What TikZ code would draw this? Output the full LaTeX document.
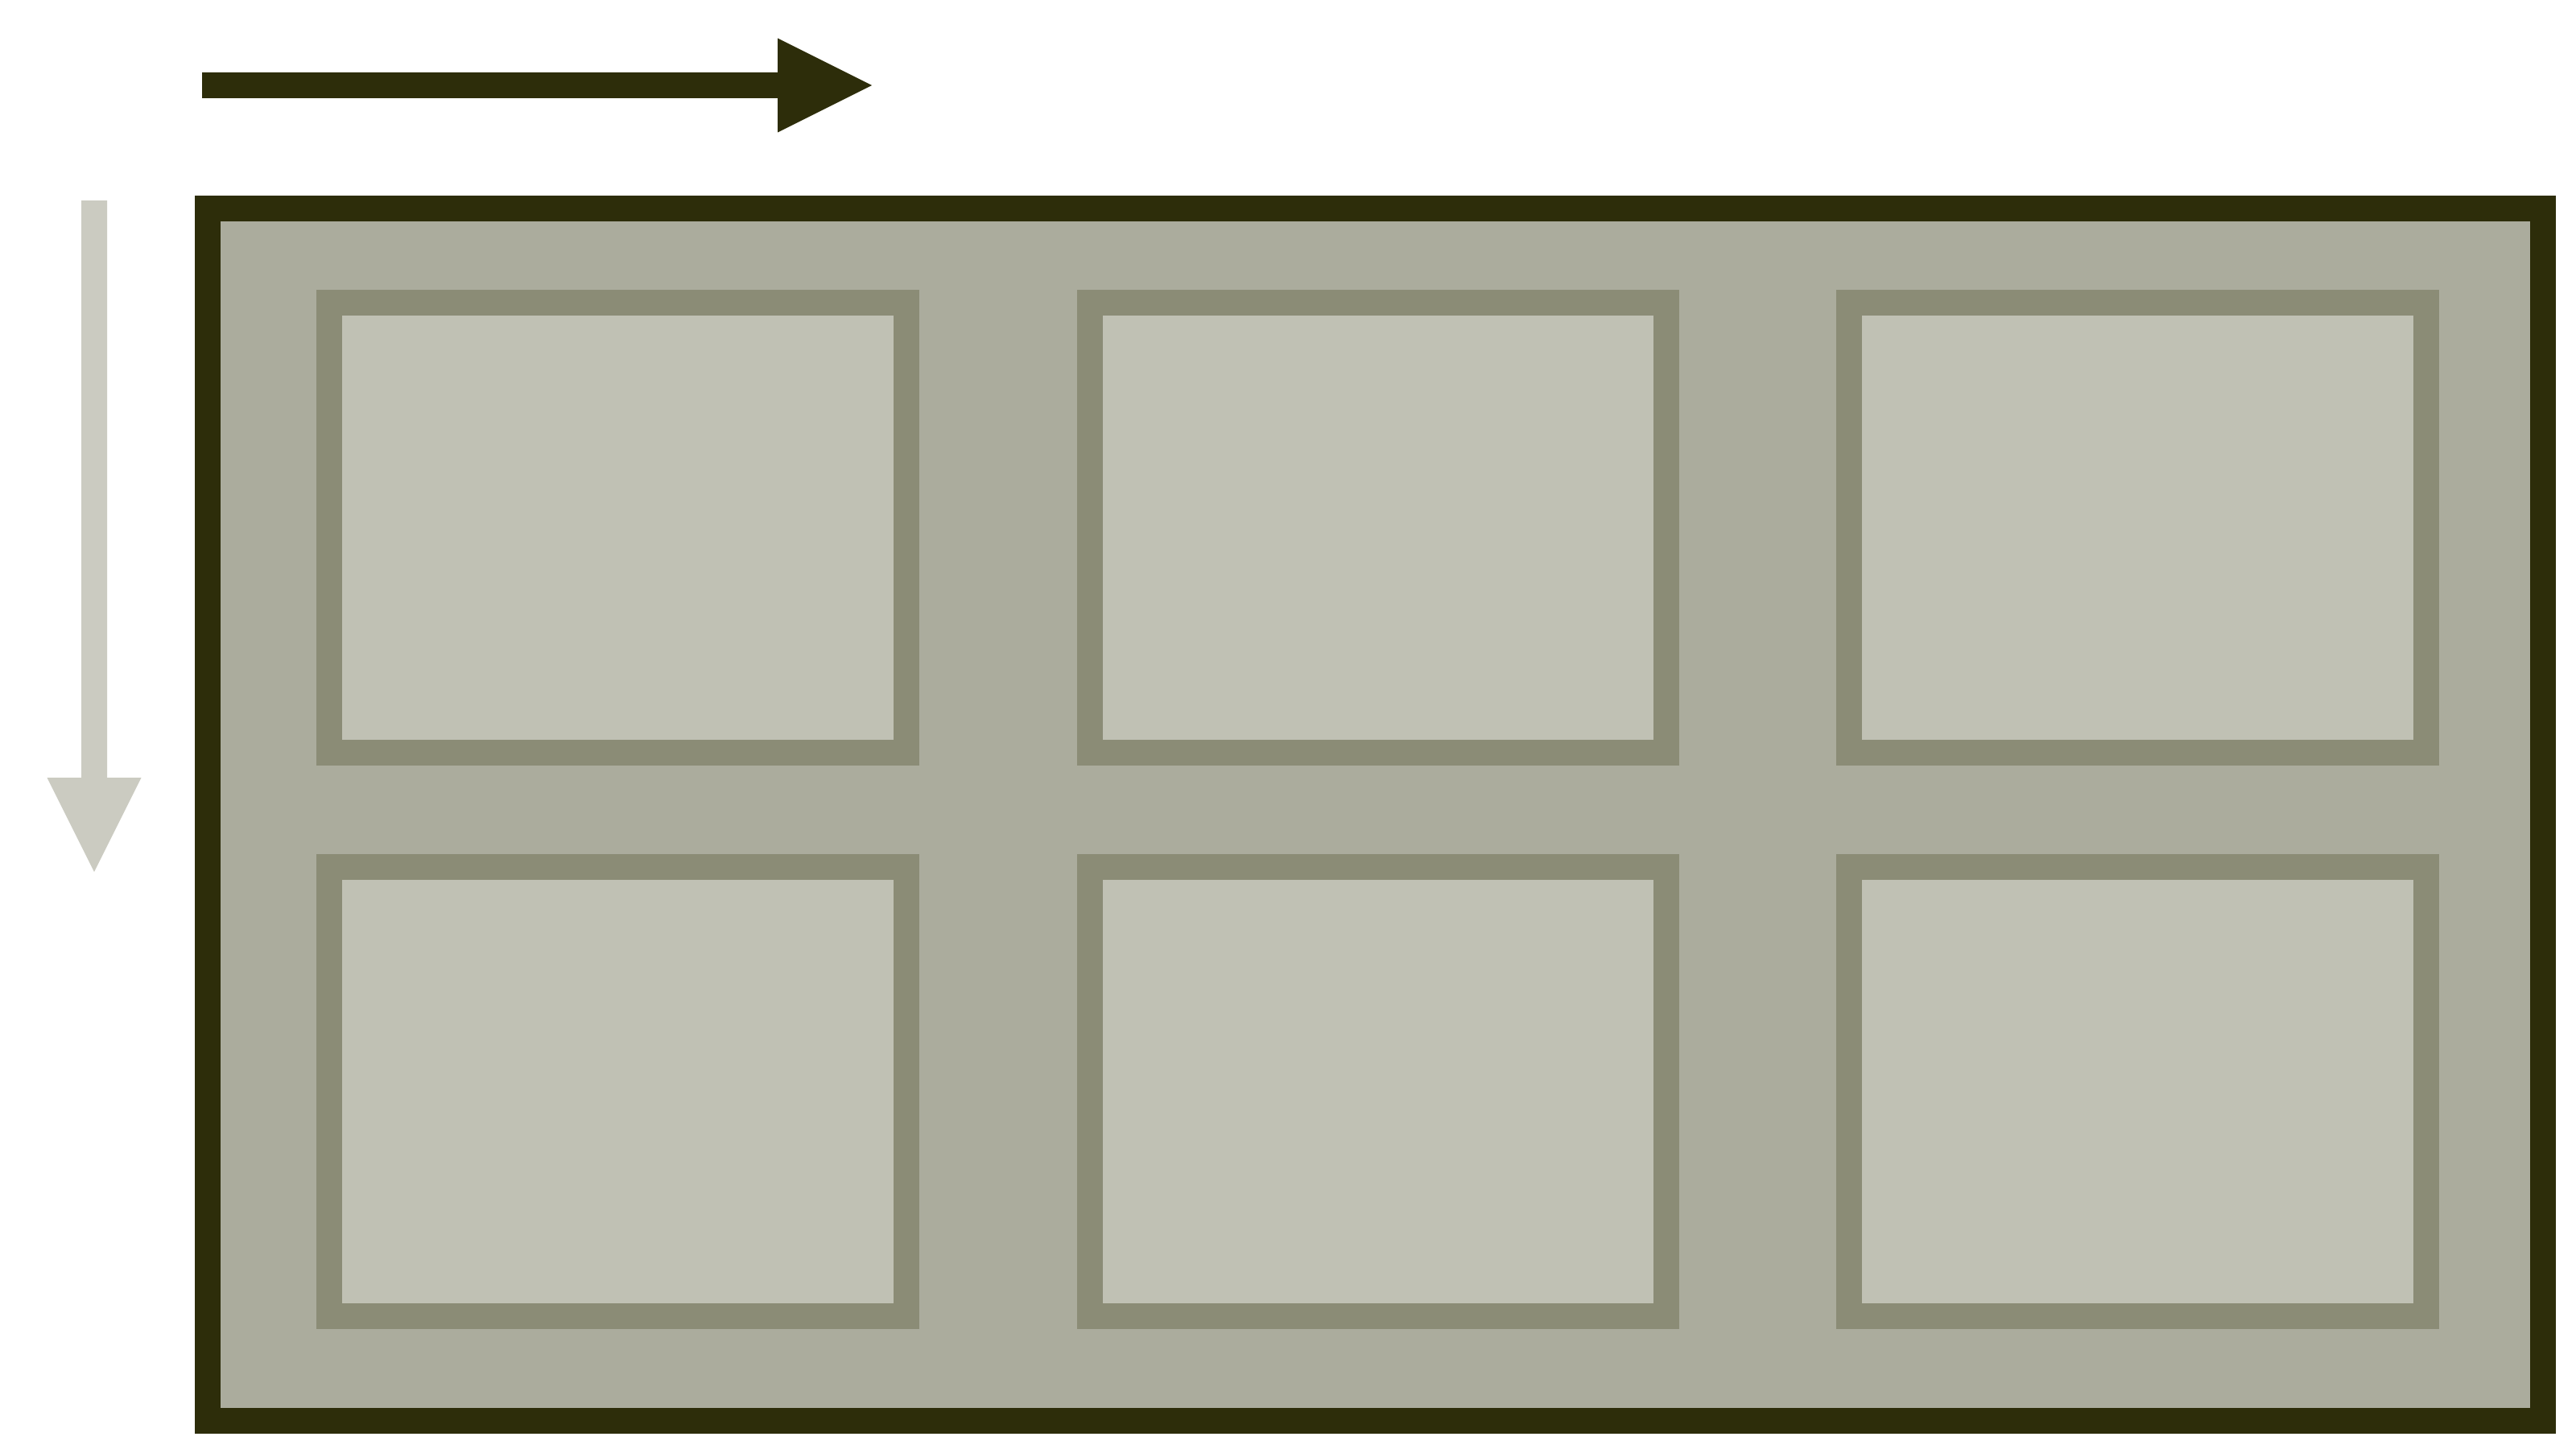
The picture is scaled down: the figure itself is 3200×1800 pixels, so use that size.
\documentclass[tikz,border=0pt]{standalone}
\definecolor{framedark}{HTML}{2D2D0A}
\definecolor{framefill}{HTML}{ABAC9D}
\definecolor{cellline}{HTML}{8B8C76}
\definecolor{cellfill}{HTML}{C0C1B4}
\definecolor{paledown}{HTML}{CBCBC1}
\tikzset{
  outerbox/.style={draw=framedark, fill=framefill, line width=0.32cm, inner sep=0pt, outer sep=0pt,
    minimum width=28.99cm, minimum height=15.06cm},
  cellbox/.style={draw=cellline, fill=cellfill, line width=0.32cm, inner sep=0pt, outer sep=0pt,
    minimum width=7.16cm, minimum height=5.58cm},
  darkarrow/.style={fill=framedark, draw=none},
  palearrow/.style={fill=paledown, draw=none}
}
\begin{document}
\begin{tikzpicture}[x=0.01cm, y=-0.01cm]
\useasboundingbox (0,0) rectangle (3200,1800);
% outer frame
\node[outerbox] (frame) at (1708.5,1012) {};
% cells
\node[cellbox] (c11) at (767.5,655.5) {};
\node[cellbox] (c12) at (1712,655.5) {};
\node[cellbox] (c13) at (2655.5,655.5) {};
\node[cellbox] (c21) at (767.5,1356) {};
\node[cellbox] (c22) at (1712,1356) {};
\node[cellbox] (c23) at (2655.5,1356) {};
% horizontal arrow
\fill[darkarrow] (251,90) -- (966,90) -- (966,47.5) -- (1083,106) -- (966,164.5) -- (966,122) -- (251,122) -- cycle;
% vertical arrow
\fill[palearrow] (101,249) -- (133,249) -- (133,966) -- (175.5,966) -- (117,1083) -- (58.5,966) -- (101,966) -- cycle;
\end{tikzpicture}
\end{document}
